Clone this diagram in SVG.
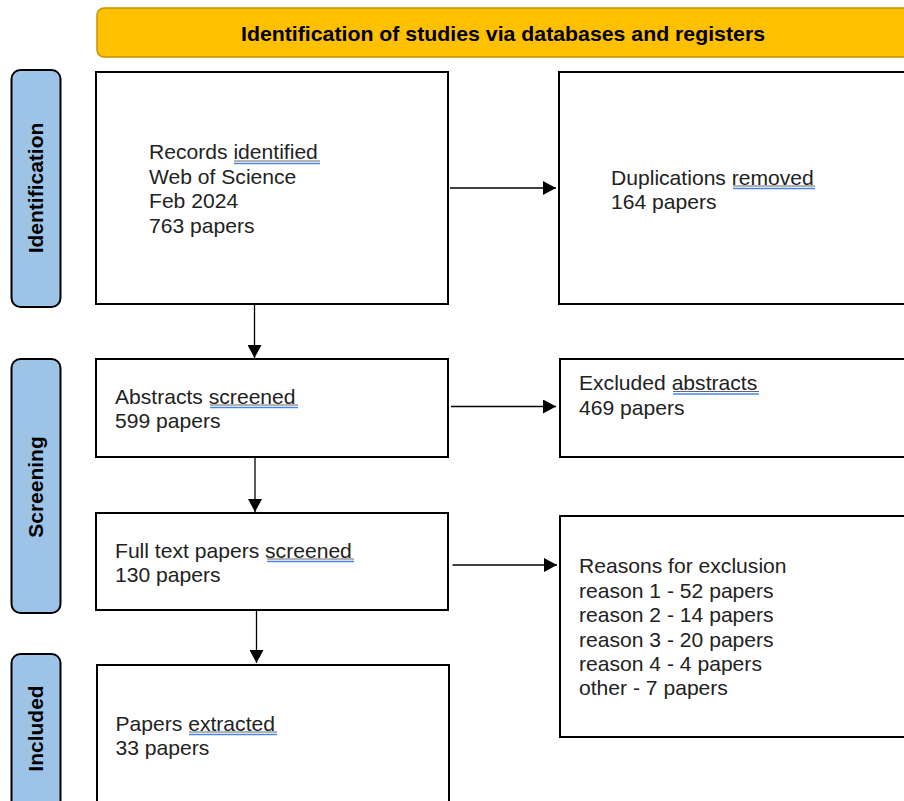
<svg xmlns="http://www.w3.org/2000/svg" width="904" height="801" viewBox="0 0 904 801">
<defs>
<marker id="arr" markerUnits="userSpaceOnUse" markerWidth="14" markerHeight="14" refX="13" refY="7" orient="auto">
<path d="M0,0 L13,7 L0,14 Z" fill="#000"/>
</marker>
<style>
.box{fill:#fff;stroke:#000;stroke-width:2}
.side{fill:#9DC3E6;stroke:#000;stroke-width:2}
.hdr{fill:#FFC000;stroke:#C49300;stroke-width:1.5}
.t{font-family:"Liberation Sans",Arial,sans-serif;font-size:21.1px;fill:#222}
.b{font-family:"Liberation Sans",Arial,sans-serif;font-size:21px;font-weight:bold;fill:#000}
.con{stroke:#000;stroke-width:1.3;fill:none;marker-end:url(#arr)}
.ul1{stroke:#666;stroke-width:1}
.ul2{stroke:#4A86E8;stroke-width:1.5}
</style>
</defs>
<rect width="904" height="801" fill="#fff"/>
<g id="header">
<rect class="hdr" x="97" y="8" width="820" height="49" rx="7"/>
<text class="b" x="503" y="41" text-anchor="middle" textLength="524" lengthAdjust="spacingAndGlyphs">Identification of studies via databases and registers</text>
</g>
<g id="side-identification">
<rect class="side" x="11.5" y="70" width="49" height="237" rx="9"/>
<text class="b" transform="translate(43,188) rotate(-90)" text-anchor="middle">Identification</text>
</g>
<g id="side-screening">
<rect class="side" x="11.5" y="359" width="49" height="254" rx="9"/>
<text class="b" transform="translate(43,487) rotate(-90)" text-anchor="middle">Screening</text>
</g>
<g id="side-included">
<rect class="side" x="11.5" y="654" width="49" height="170" rx="9"/>
<text class="b" transform="translate(43,728.5) rotate(-90)" text-anchor="middle">Included</text>
</g>
<g id="records">
<rect class="box" x="96" y="72" width="352" height="232"/>
<text class="t" x="149" y="159">Records identified</text>
<text class="t" x="149" y="183.5">Web of Science</text>
<text class="t" x="149" y="208">Feb 2024</text>
<text class="t" x="149" y="232.5">763 papers</text>
<line class="ul1" x1="234" y1="161" x2="320" y2="161"/>
<line class="ul2" x1="234" y1="163.5" x2="320" y2="163.5"/>
</g>
<g id="duplicates">
<rect class="box" x="559" y="72" width="360" height="232"/>
<text class="t" x="611" y="184.5">Duplications removed</text>
<text class="t" x="611" y="208.5">164 papers</text>
<line class="ul1" x1="733" y1="186" x2="815" y2="186"/>
<line class="ul2" x1="733" y1="188.5" x2="815" y2="188.5"/>
</g>
<g id="abstracts">
<rect class="box" x="96" y="359" width="352" height="98"/>
<text class="t" x="115" y="403.5">Abstracts screened</text>
<text class="t" x="115" y="428">599 papers</text>
<line class="ul1" x1="210" y1="405" x2="298" y2="405"/>
<line class="ul2" x1="210" y1="407.5" x2="298" y2="407.5"/>
</g>
<g id="excluded-abstracts">
<rect class="box" x="560" y="359" width="360" height="98"/>
<text class="t" x="579" y="390">Excluded abstracts</text>
<text class="t" x="579" y="415">469 papers</text>
<line class="ul1" x1="673" y1="391.5" x2="759" y2="391.5"/>
<line class="ul2" x1="673" y1="394" x2="759" y2="394"/>
</g>
<g id="fulltext">
<rect class="box" x="96" y="513" width="352" height="97"/>
<text class="t" x="115" y="557.5">Full text papers screened</text>
<text class="t" x="115" y="582">130 papers</text>
<line class="ul1" x1="267" y1="559" x2="354" y2="559"/>
<line class="ul2" x1="267" y1="561.5" x2="354" y2="561.5"/>
</g>
<g id="reasons">
<rect class="box" x="560" y="516" width="360" height="221"/>
<text class="t" x="579" y="573">Reasons for exclusion</text>
<text class="t" x="579" y="597.5">reason 1 - 52 papers</text>
<text class="t" x="579" y="622">reason 2 - 14 papers</text>
<text class="t" x="579" y="646.5">reason 3 - 20 papers</text>
<text class="t" x="579" y="670.5">reason 4 - 4 papers</text>
<text class="t" x="579" y="695">other - 7 papers</text>
</g>
<g id="extracted">
<rect class="box" x="97" y="665" width="352" height="160"/>
<text class="t" x="115.5" y="730.5">Papers extracted</text>
<text class="t" x="115.5" y="755">33 papers</text>
<line class="ul1" x1="189" y1="732" x2="277" y2="732"/>
<line class="ul2" x1="189" y1="734.5" x2="277" y2="734.5"/>
</g>
<g id="connectors">
<line class="con" x1="450" y1="188" x2="556" y2="188"/>
<line class="con" x1="254.5" y1="305" x2="254.5" y2="358"/>
<line class="con" x1="451" y1="406.5" x2="556" y2="406.5"/>
<line class="con" x1="255" y1="458" x2="255" y2="512"/>
<line class="con" x1="452.5" y1="565" x2="557" y2="565"/>
<line class="con" x1="256.5" y1="611" x2="256.5" y2="663"/>
</g>
</svg>
